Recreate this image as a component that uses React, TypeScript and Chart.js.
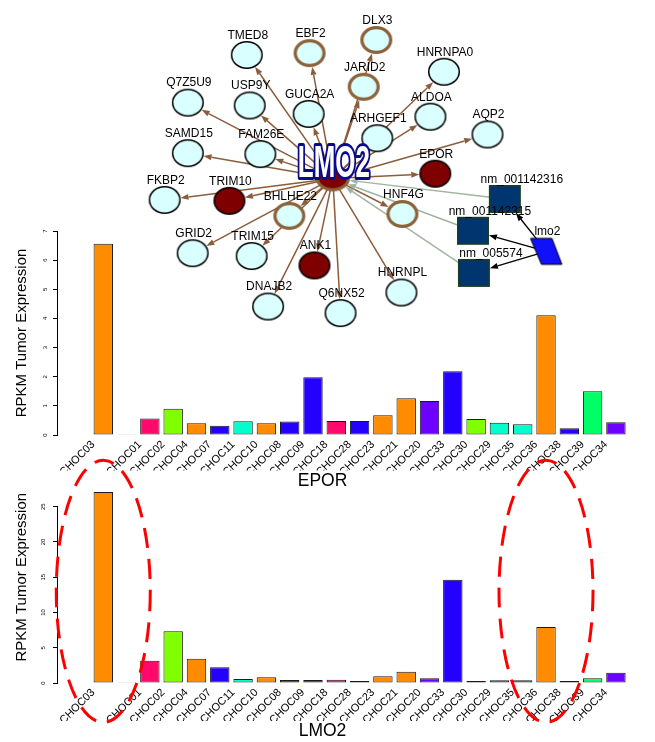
import React, { useEffect, useRef } from 'react';
import { Chart, registerables } from 'chart.js';

Chart.register(...registerables);

const FONT = "'Liberation Sans', Arial, Helvetica, sans-serif";

// ---------------- bar chart data ----------------
const categories = ['CHOC03', '', 'CHOC01', 'CHOC02', 'CHOC04', 'CHOC07', 'CHOC11', 'CHOC10', 'CHOC08', 'CHOC09', 'CHOC18', 'CHOC28', 'CHOC23', 'CHOC21', 'CHOC20', 'CHOC33', 'CHOC30', 'CHOC29', 'CHOC35', 'CHOC36', 'CHOC38', 'CHOC39', 'CHOC34'];
const eporValues = [6.56, 0.03, 0.57, 0.90, 0.40, 0.32, 0.47, 0.40, 0.46, 1.98, 0.48, 0.48, 0.68, 1.26, 1.17, 2.19, 0.55, 0.42, 0.37, 4.11, 0.23, 1.50, 0.44];
const lmo2Values = [27.08, 0.12, 3.16, 7.33, 3.45, 2.22, 0.57, 0.80, 0.43, 0.43, 0.47, 0.28, 0.94, 1.61, 0.66, 14.65, 0.28, 0.38, 0.38, 7.94, 0.28, 0.66, 1.46];
const barColors = ['#FF8C00', '#FFFFFF', '#FF0A6C', '#7FFF00', '#FF8C00', '#2400FF', '#00FFCC', '#FF8C00', '#2400FF', '#2400FF', '#FF0A6C', '#2400FF', '#FF8C00', '#FF8C00', '#6E00FF', '#2400FF', '#7FFF00', '#00FFCC', '#00FFCC', '#FF8C00', '#2400FF', '#00FF66', '#6E00FF'];
const eporTicks = [0, 1, 2, 3, 4, 5, 6, 7];
const lmo2Ticks = [0, 5, 10, 15, 20, 25];
const highlighted = ['CHOC03', 'CHOC36'];
const highlightCentreValue = 13.0;

// ---------------- network data ----------------
const nodeNames = ['LMO2', 'TMED8', 'EBF2', 'DLX3', 'JARID2', 'HNRNPA0', 'ALDOA', 'ARHGEF1', 'AQP2', 'EPOR', 'Q7Z5U9', 'USP9Y', 'GUCA2A', 'SAMD15', 'FAM26E', 'FKBP2', 'TRIM10', 'BHLHE22', 'GRID2', 'TRIM15', 'ANK1', 'DNAJB2', 'Q6NX52', 'HNRNPL', 'HNF4G', 'nm_001142316', 'nm_001142315', 'nm_005574', 'lmo2'];
const nodeX = [333, 244, 309, 378, 365, 448, 434, 379, 493, 439, 183, 247, 308, 183, 258, 159, 226, 288, 188, 249, 314, 266, 341, 404, 405, 511, 478, 479, 554];
const nodeY = [179, 47, 45, 31, 81, 65, 113, 136, 132, 174, 98, 101, 110, 152, 153, 202, 203, 219, 259, 262, 272, 316, 323, 301, 217, 201, 235, 280, 257];
const nodeKinds = ['center', 'plain', 'brown', 'brown', 'brown', 'plain', 'plain', 'plain', 'plain', 'red', 'plain', 'plain', 'plain', 'plain', 'plain', 'plain', 'red', 'brown', 'plain', 'plain', 'red', 'plain', 'plain', 'plain', 'brown', 'square', 'square', 'square', 'para'];
const edgeFrom = ['LMO2', 'LMO2', 'LMO2', 'LMO2', 'LMO2', 'LMO2', 'LMO2', 'LMO2', 'LMO2', 'LMO2', 'LMO2', 'LMO2', 'LMO2', 'LMO2', 'LMO2', 'LMO2', 'LMO2', 'LMO2', 'LMO2', 'LMO2', 'LMO2', 'LMO2', 'LMO2', 'LMO2', 'nm_001142316', 'nm_001142315', 'nm_005574', 'lmo2', 'lmo2', 'lmo2'];
const edgeTo = ['TMED8', 'EBF2', 'JARID2', 'DLX3', 'HNRNPA0', 'ARHGEF1', 'ALDOA', 'AQP2', 'EPOR', 'Q7Z5U9', 'USP9Y', 'GUCA2A', 'SAMD15', 'FAM26E', 'FKBP2', 'TRIM10', 'BHLHE22', 'GRID2', 'TRIM15', 'ANK1', 'DNAJB2', 'Q6NX52', 'HNRNPL', 'HNF4G', 'LMO2', 'LMO2', 'LMO2', 'nm_001142316', 'nm_001142315', 'nm_005574'];
const edgeKinds = ['brown', 'brown', 'brown', 'brown', 'brown', 'brown', 'brown', 'brown', 'brown', 'brown', 'brown', 'brown', 'brown', 'brown', 'brown', 'brown', 'brown', 'brown', 'brown', 'brown', 'brown', 'brown', 'brown', 'brown', 'gray', 'gray', 'gray', 'black', 'black', 'black'];

// ---------------- styles ----------------
const shapeSize: Record<string, number[]> = { plain: [16, 14], brown: [16, 14], red: [16, 14], center: [17, 13], square: [16, 14], para: [16, 13.5] };
const edgeColors: Record<string, string> = { brown: '#8B5D3B', gray: '#A0B4A0', black: '#000000' };
const CYAN = '#DAFFFF';
const DARKRED = '#7F0000';
const BROWN = '#8B623A';

function makeShape(kind: string): HTMLCanvasElement {
  const [rx, ry] = shapeSize[kind];
  const c = document.createElement('canvas');
  c.width = Math.ceil(rx) * 2 + 4;
  c.height = Math.ceil(ry) * 2 + 4;
  const ctx = c.getContext('2d')!;
  const cx = c.width / 2;
  const cy = c.height / 2;
  ctx.beginPath();
  if (kind === 'square') {
    ctx.rect(cx - rx + 0.75, cy - ry + 0.75, rx * 2 - 1.5, ry * 2 - 1.5);
    ctx.fillStyle = '#003570';
    ctx.fill();
    ctx.strokeStyle = '#1F3F1F';
    ctx.lineWidth = 1.5;
    ctx.stroke();
  } else if (kind === 'para') {
    ctx.moveTo(cx - 16, cy - 13);
    ctx.lineTo(cx + 5.5, cy - 13);
    ctx.lineTo(cx + 15.5, cy + 13);
    ctx.lineTo(cx - 5, cy + 13);
    ctx.closePath();
    ctx.fillStyle = '#1010FA';
    ctx.fill();
    ctx.strokeStyle = '#000';
    ctx.lineWidth = 1;
    ctx.stroke();
  } else {
    const lw = kind === 'brown' || kind === 'center' ? 3.2 : 1.5;
    ctx.ellipse(cx, cy, rx - lw / 2, ry - lw / 2, 0, 0, Math.PI * 2);
    ctx.fillStyle = kind === 'red' || kind === 'center' ? DARKRED : CYAN;
    ctx.fill();
    ctx.strokeStyle = kind === 'brown' || kind === 'center' ? BROWN : '#000';
    ctx.lineWidth = lw;
    ctx.stroke();
  }
  return c;
}

function boundary(kind: string, cx: number, cy: number, fx: number, fy: number): number[] {
  const [rx, ry] = shapeSize[kind];
  const dx = fx - cx;
  const dy = fy - cy;
  let t: number;
  if (kind === 'square' || kind === 'para') t = 1 / Math.max(Math.abs(dx) / rx, Math.abs(dy) / ry);
  else t = 1 / Math.sqrt((dx / rx) ** 2 + (dy / ry) ** 2);
  return [cx + dx * t, cy + dy * t];
}

const edgePlugin = {
  id: 'edges',
  beforeDatasetsDraw(chart: any) {
    const ctx = chart.ctx;
    const xs = chart.scales.x;
    const ys = chart.scales.y;
    ctx.save();
    edgeFrom.forEach((from, k) => {
      const a = nodeNames.indexOf(from);
      const b = nodeNames.indexOf(edgeTo[k]);
      const x1 = xs.getPixelForValue(nodeX[a]);
      const y1 = ys.getPixelForValue(nodeY[a]);
      const x2 = xs.getPixelForValue(nodeX[b]);
      const y2 = ys.getPixelForValue(nodeY[b]);
      const [tx, ty] = boundary(nodeKinds[b], x2, y2, x1, y1);
      const ang = Math.atan2(ty - y1, tx - x1);
      const len = 8;
      const hw = 3;
      const bx = tx - Math.cos(ang) * len;
      const by = ty - Math.sin(ang) * len;
      const col = edgeColors[edgeKinds[k]];
      ctx.strokeStyle = col;
      ctx.fillStyle = col;
      ctx.lineWidth = edgeKinds[k] === 'black' ? 1.3 : 1.5;
      ctx.beginPath();
      ctx.moveTo(x1, y1);
      ctx.lineTo(bx, by);
      ctx.stroke();
      ctx.beginPath();
      ctx.moveTo(tx, ty);
      ctx.lineTo(bx - Math.sin(ang) * hw, by + Math.cos(ang) * hw);
      ctx.lineTo(bx + Math.sin(ang) * hw, by - Math.cos(ang) * hw);
      ctx.closePath();
      ctx.fill();
    });
    ctx.restore();
  },
  afterDatasetsDraw(chart: any) {
    const ctx = chart.ctx;
    const xs = chart.scales.x;
    const ys = chart.scales.y;
    ctx.save();
    ctx.font = `12px ${FONT}`;
    ctx.fillStyle = '#000';
    ctx.textAlign = 'center';
    ctx.textBaseline = 'middle';
    nodeNames.forEach((name, i) => {
      if (nodeKinds[i] === 'center') return;
      const px = xs.getPixelForValue(nodeX[i]);
      const py = ys.getPixelForValue(nodeY[i]);
      const dx = nodeKinds[i] === 'square' ? 17 : 1;
      ctx.fillText(name, px + dx, py - 19.5);
    });
    // central gene label
    const c = nodeKinds.indexOf('center');
    const cx = xs.getPixelForValue(nodeX[c]) + 1;
    const cy = ys.getPixelForValue(nodeY[c]);
    ctx.font = `bold 44px ${FONT}`;
    const w = ctx.measureText(nodeNames[c]).width;
    const sx = 72 / w;
    ctx.translate(cx, cy - 1);
    ctx.scale(sx, 1);
    ctx.textBaseline = 'alphabetic';
    ctx.lineJoin = 'round';
    ctx.lineWidth = 6;
    ctx.strokeStyle = '#0A0A8C';
    ctx.strokeText(nodeNames[c], 0, 0);
    ctx.fillStyle = '#FFFFFF';
    ctx.fillText(nodeNames[c], 0, 0);
    ctx.restore();
  },
};

const axisLinePlugin = {
  id: 'axisLine',
  afterDraw(chart: any) {
    const ys = chart.scales.y;
    const ticks = ys.ticks;
    const x = Math.round(chart.chartArea.left) - 0.5;
    const ctx = chart.ctx;
    ctx.save();
    ctx.strokeStyle = '#000';
    ctx.lineWidth = 1;
    ctx.beginPath();
    ctx.moveTo(x, ys.getPixelForValue(ticks[0].value));
    ctx.lineTo(x, ys.getPixelForValue(ticks[ticks.length - 1].value));
    ctx.stroke();
    ctx.restore();
  },
};

const highlightPlugin = {
  id: 'highlight',
  afterDraw(chart: any) {
    const ctx = chart.ctx;
    const xs = chart.scales.x;
    const ys = chart.scales.y;
    ctx.save();
    ctx.strokeStyle = '#FF0000';
    ctx.lineWidth = 3;
    ctx.setLineDash([20, 11]);
    highlighted.forEach((name) => {
      const i = categories.indexOf(name);
      ctx.beginPath();
      ctx.ellipse(xs.getPixelForValue(i), ys.getPixelForValue(highlightCentreValue), 47, 131, 0, 0, Math.PI * 2);
      ctx.stroke();
    });
    ctx.restore();
  },
};

function barConfig(values: number[], ticks: number[], yMax: number, title: string, padTop: number, xHeight: number, titlePadBottom: number, extraPlugins: any[]) {
  return {
    type: 'bar' as const,
    data: {
      datasets: [
        {
          data: values.map((v, i) => ({ x: i, y: v })),
          backgroundColor: barColors,
          borderColor: '#1A1A1A',
          borderWidth: 1,
          borderSkipped: false,
          barPercentage: 0.833,
          categoryPercentage: 1,
        },
      ],
    },
    options: {
      animation: false,
      responsive: false,
      maintainAspectRatio: false,
      events: [],
      layout: { padding: { top: padTop, right: 10, left: 0, bottom: 0 } },
      plugins: {
        legend: { display: false },
        tooltip: { enabled: false },
        title: {
          display: true,
          text: title,
          position: 'bottom',
          color: '#000',
          font: { family: FONT, size: 17.5, weight: 'normal' },
          padding: { top: 0, bottom: titlePadBottom },
        },
      },
      scales: {
        x: {
          type: 'linear',
          min: -1.395,
          max: 22.7,
          grid: { display: false, drawTicks: false },
          border: { display: false },
          afterBuildTicks: (s: any) => {
            s.ticks = categories.map((_, i) => ({ value: i }));
          },
          afterFit: (s: any) => {
            s.height = xHeight;
          },
          ticks: {
            autoSkip: false,
            minRotation: 45,
            maxRotation: 45,
            padding: 3,
            labelOffset: -10,
            color: '#000',
            font: { family: FONT, size: 11 },
            callback: (v: any) => categories[Math.round(v)] ?? '',
          },
        },
        y: {
          min: 0,
          max: yMax,
          afterBuildTicks: (s: any) => {
            s.ticks = ticks.map((v) => ({ value: v }));
          },
          afterFit: (s: any) => {
            s.width = 58;
          },
          grid: { drawOnChartArea: false, drawTicks: true, tickLength: 5, color: '#000', lineWidth: 1 },
          border: { display: false },
          ticks: {
            minRotation: 90,
            maxRotation: 90,
            crossAlign: 'center',
            padding: 6,
            color: '#000',
            font: { family: FONT, size: 6 },
          },
          title: {
            display: true,
            text: 'RPKM Tumor Expression',
            color: '#000',
            font: { family: FONT, size: 15 },
            padding: { top: 13, bottom: 0 },
          },
        },
      },
    },
    plugins: [axisLinePlugin, ...extraPlugins],
  };
}

export default function App() {
  const netRef = useRef<HTMLCanvasElement>(null);
  const topRef = useRef<HTMLCanvasElement>(null);
  const botRef = useRef<HTMLCanvasElement>(null);

  useEffect(() => {
    Chart.defaults.font.family = FONT;
    Chart.defaults.color = '#000';
    const charts: Chart[] = [];
    charts.push(new Chart(topRef.current!, barConfig(eporValues, eporTicks, 7, 'EPOR', 31, 35.5, 8.5, []) as any));
    charts.push(new Chart(botRef.current!, barConfig(lmo2Values, lmo2Ticks, 30, 'LMO2', 31.4, 38, 0, [highlightPlugin]) as any));

    const shapes: Record<string, HTMLCanvasElement> = {};
    Object.keys(shapeSize).forEach((k) => {
      shapes[k] = makeShape(k);
    });
    charts.push(
      new Chart(netRef.current!, {
        type: 'scatter',
        data: {
          datasets: [
            {
              data: nodeNames.map((_, i) => ({ x: nodeX[i], y: nodeY[i] })),
              pointStyle: nodeKinds.map((k) => shapes[k]) as any,
              pointRadius: 10,
              clip: false as any,
            },
          ],
        },
        options: {
          animation: false,
          responsive: false,
          maintainAspectRatio: false,
          events: [],
          layout: { padding: 0 },
          plugins: { legend: { display: false }, tooltip: { enabled: false } },
          scales: {
            x: { type: 'linear', display: false, min: 0, max: 655 },
            y: { type: 'linear', display: false, min: 0, max: 340, reverse: true },
          },
        },
        plugins: [edgePlugin],
      } as any)
    );
    return () => charts.forEach((c) => c.destroy());
  }, []);

  return (
    <div style={{ position: 'fixed', left: 0, top: 0, width: 655, height: 742, background: '#fff', overflow: 'hidden' }}>
      <canvas ref={topRef} width={655} height={300} style={{ position: 'absolute', left: 0, top: 200, width: 655, height: 300, zIndex: 1 }} />
      <canvas ref={botRef} width={655} height={302} style={{ position: 'absolute', left: 0, top: 440, width: 655, height: 302, zIndex: 2 }} />
      <canvas ref={netRef} width={655} height={340} style={{ position: 'absolute', left: 0, top: 0, width: 655, height: 340, zIndex: 3 }} />
    </div>
  );
}
